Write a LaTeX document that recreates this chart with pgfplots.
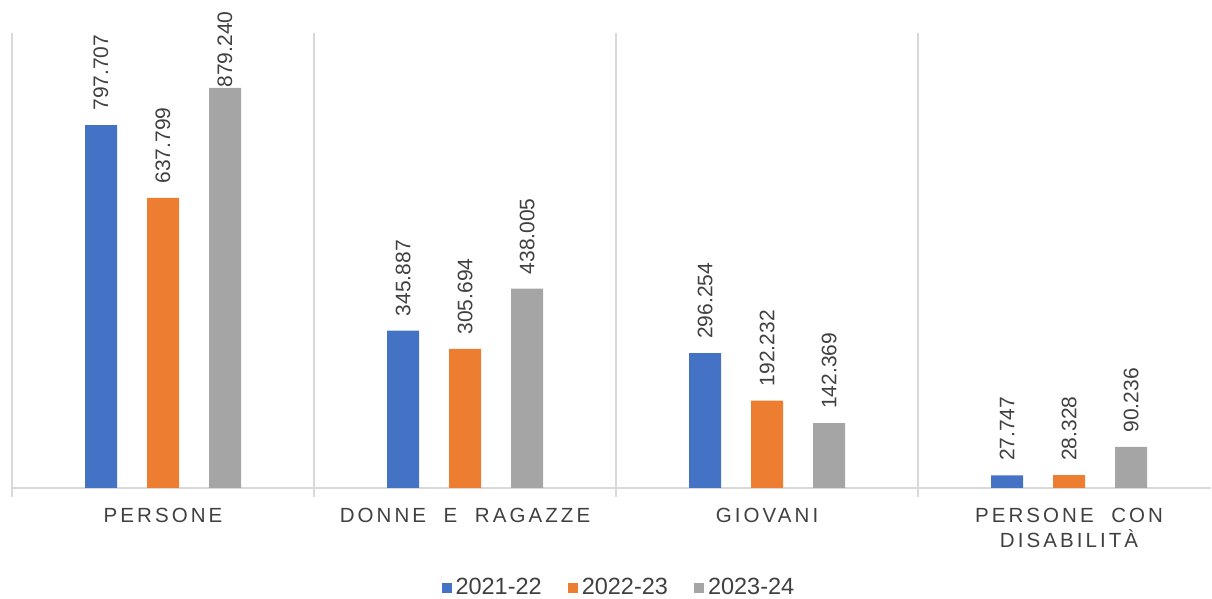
\documentclass[border=0pt]{standalone}
\usepackage{fontspec}
\setmainfont{Liberation Sans}
\newfontfamily\catfont[LetterSpace=15, WordSpace=2]{Liberation Sans}
\usepackage{pgfplots}
\pgfplotsset{compat=1.18}
\definecolor{s1}{HTML}{4472C4}
\definecolor{s2}{HTML}{ED7D31}
\definecolor{s3}{HTML}{A5A5A5}
\definecolor{gridc}{HTML}{D9D9D9}
\definecolor{txt}{HTML}{404040}
\begin{document}
\begin{tikzpicture}
\path[use as bounding box] (-6pt,-55.5pt) rectangle ++(606pt,299.5pt);
\begin{axis}[
  name=ax,
  scale only axis,
  width=599.5pt, height=227.5pt,
  xmin=-0.5, xmax=3.47,
  ymin=0, ymax=1000000,
  ybar=15pt, bar width=16pt,
  clip=false,
  axis x line*=bottom,
  axis y line=none,
  x axis line style={gridc, line width=0.75pt},
  ytick=\empty,
  xtick={0,1,2,3},
  xticklabels={PERSONE, DONNE E RAGAZZE, GIOVANI, {PERSONE CON\\DISABILITÀ}},
  major tick length=0pt,
  minor xtick={-0.5,0.5,1.5,2.5},
  xminorgrids=true,
  minor grid style={gridc, line width=0.75pt},
  minor tick length=4.5pt,
  tick align=outside,
  tick style={gridc, line width=0.75pt},
  xticklabel style={font=\catfont\fontsize{10.25}{12.5}\selectfont, text=txt, align=center, yshift=-6.5pt},
  nodes near coords,
  /pgf/number format/.cd, fixed, 1000 sep={.}, assume math mode=true, /pgfplots/.cd,
  every node near coord/.append style={rotate=90, anchor=west, font=\fontsize{10.5}{12}\selectfont, text=txt, inner xsep=7pt, inner ysep=0pt},
  legend style={at={(0.507,-0.22)}, anchor=center, draw=none, fill=none, legend columns=3,
    font=\fontsize{11.75}{13}\selectfont, text=txt,
    /tikz/every even column/.append style={column sep=11pt}},
  legend image code/.code={\fill[#1] (0pt,-2.6pt) rectangle (5pt,2.6pt);},
]
\addplot[fill=s1, draw=none] coordinates {(0,797707) (1,345887) (2,296254) (3,27747)};
\addplot[fill=s2, draw=none] coordinates {(0,637799) (1,305694) (2,192232) (3,28328)};
\addplot[fill=s3, draw=none,
  visualization depends on={value \coordindex \as \ci},
  every node near coord/.append style={inner xsep={7pt*(\ci>0)}}]
  coordinates {(0,879240) (1,438005) (2,142369) (3,90236)};
\legend{2021-22, 2022-23, 2023-24}
\end{axis}
\end{tikzpicture}
\end{document}
